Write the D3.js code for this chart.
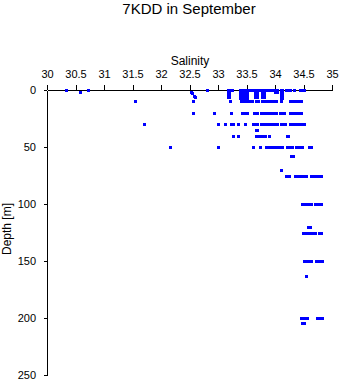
<!DOCTYPE html>
<html>
<head>
<meta charset="utf-8">
<script src="https://cdn.jsdelivr.net/npm/d3@7"></script>
<style>
  html, body { margin: 0; padding: 0; background: #fff; }
  text { font-family: "Liberation Sans", Arial, Helvetica, sans-serif; }
</style>
</head>
<body>
<svg id="chart" width="341" height="384"></svg>
<script>
const title = "7KDD in September";
const xLabel = "Salinity";
const yLabel = "Depth [m]";
const xTicks = [30, 30.5, 31, 31.5, 32, 32.5, 33, 33.5, 34, 34.5, 35];
const yTicks = [0, 50, 100, 150, 200, 250];

// observations: salinity and depth (parallel arrays)
const salinity = [
  // depth 0
  30.33, 30.72, 32.8, 33.17, 33.2, 33.25, 33.38, 33.42, 33.46, 33.5, 33.52, 33.55, 33.58, 33.62, 33.65, 33.68, 33.72, 33.75, 33.78, 33.8, 33.83, 33.86, 33.9, 33.93, 33.96, 34.0, 34.03, 34.1, 34.13, 34.2, 34.23, 34.27, 34.34, 34.44, 34.47, 34.5,
  30.58,
  // shallow columns
  32.52, 32.55, 32.58, 32.6,
  33.17, 33.17, 33.17, 33.17, 33.17, 33.17, 33.2, 33.2, 33.2, 33.2, 33.2, 33.2,
  33.38, 33.38, 33.38, 33.38, 33.38, 33.38, 33.38,
  33.42, 33.42, 33.42, 33.42, 33.42, 33.42, 33.42,
  33.46, 33.46, 33.46, 33.46, 33.46, 33.46, 33.46,
  33.5, 33.5, 33.5, 33.5, 33.5, 33.5, 33.5,
  33.65, 33.65, 33.65, 33.65, 33.65, 33.65, 33.68, 33.68, 33.68, 33.68, 33.68, 33.68,
  33.77, 33.77, 33.77, 33.77, 33.77, 33.77, 33.8, 33.8, 33.8, 33.8, 33.8, 33.8,
  34.0, 34.03, 34.0, 34.03,
  34.1, 34.1, 34.1, 34.1, 34.1, 34.1, 34.1, 34.12, 34.12, 34.12, 34.12, 34.12, 34.12, 34.12,
  // depth 10
  31.55, 32.57, 33.21, 33.4, 33.44, 33.48, 33.52, 33.56, 33.6, 33.66, 33.7, 33.78, 33.82, 33.86, 33.9, 33.94, 33.98, 34.02, 34.1, 34.26, 34.29, 34.35, 34.38, 34.42, 34.46,
  // depth 20
  32.57, 32.93, 33.23, 33.42, 33.46, 33.5, 33.64, 33.68, 33.76, 33.8, 33.84, 33.88, 33.92, 33.96, 34.0, 34.02, 34.09, 34.12, 34.16, 34.26, 34.29, 34.35, 34.38, 34.42, 34.46,
  // depth 30
  31.7, 33.0, 33.12, 33.23, 33.27, 33.35, 33.48, 33.61, 33.65, 33.69, 33.76, 33.8, 33.84, 33.88, 33.92, 33.96, 34.0, 34.04, 34.1, 34.14, 34.18, 34.26, 34.29, 34.35, 34.39, 34.43, 34.47, 34.5,
  // depth 35
  33.66, 33.68,
  // depth 40
  33.26, 33.35, 33.67, 33.7, 33.74, 33.78, 33.82, 33.89, 34.21, 34.23,
  // depth 50
  32.15, 33.0, 33.61, 33.73, 33.84, 33.88, 33.92, 33.96, 34.0, 34.04, 34.08, 34.12, 34.21, 34.25, 34.29, 34.37, 34.41, 34.45, 34.48, 34.59, 34.63,
  // depth 58
  34.28, 34.31,
  // depth 70
  34.1,
  // depth 75
  34.2, 34.25, 34.35, 34.39, 34.43, 34.47, 34.51, 34.54, 34.63, 34.67, 34.71, 34.75, 34.78, 34.81,
  // depth 100
  34.48, 34.52, 34.56, 34.6, 34.64, 34.7, 34.74, 34.78, 34.81,
  // depth 120
  34.58, 34.61,
  // depth 125
  34.49, 34.53, 34.57, 34.61, 34.64, 34.68, 34.71, 34.77, 34.81,
  // depth 150
  34.51, 34.55, 34.59, 34.63, 34.72, 34.74, 34.79, 34.83,
  // depth 163
  34.55,
  // depth 200
  34.46, 34.5, 34.54, 34.57, 34.74, 34.78, 34.82,
  // depth 204
  34.48, 34.51
];
const depth = [
  0,0,0,0,0,0,0,0,0,0,0,0,0,0,0,0,0,0,0,0,0,0,0,0,0,0,0,0,0,0,0,0,0,0,0,0,
  1.5,
  2, 3, 5, 6,
  1,2,3,4,5,6, 1,2,3,4,5,6,
  1,2,3,4,5,6,7,
  1,2,3,4,5,6,7,
  1,2,3,4,5,6,7,
  1,2,3,4,5,6,7,
  1,2,3,4,5,6, 1,2,3,4,5,6,
  1,2,3,4,5,6, 1,2,3,4,5,6,
  1,1,2,2,
  1,2,3,4,5,6,7, 1,2,3,4,5,6,7,
  10,10,10,10,10,10,10,10,10,10,10,10,10,10,10,10,10,10,10,10,10,10,10,10,10,
  20,20,20,20,20,20,20,20,20,20,20,20,20,20,20,20,20,20,20,20,20,20,20,20,20,
  30,30,30,30,30,30,30,30,30,30,30,30,30,30,30,30,30,30,30,30,30,30,30,30,30,30,30,30,
  35,35,
  40,40,40,40,40,40,40,40,40,40,
  50,50,50,50,50,50,50,50,50,50,50,50,50,50,50,50,50,50,50,50,50,
  58,58,
  70,
  75,75,75,75,75,75,75,75,75,75,75,75,75,75,
  100,100,100,100,100,100,100,100,100,
  120,120,
  125,125,125,125,125,125,125,125,125,
  150,150,150,150,150,150,150,150,
  163,
  200,200,200,200,200,200,200,
  204,204
];

const svg = d3.select("#chart");
const marginLeft = 47, marginTop = 90, plotW = 285, plotH = 285;

const x = d3.scaleLinear().domain([30, 35]).range([0, plotW]);
const y = d3.scaleLinear().domain([0, 250]).range([0, plotH]);

const g = svg.append("g").attr("transform", `translate(${marginLeft},${marginTop})`);

// axes
const xAxis = g.append("g")
  .call(d3.axisTop(x).tickValues(xTicks).tickSize(5).tickSizeOuter(0).tickFormat(d3.format("")));
const yAxis = g.append("g")
  .call(d3.axisLeft(y).tickValues(yTicks).tickSize(3).tickSizeOuter(0).tickFormat(d3.format("")));

[xAxis, yAxis].forEach(a => {
  a.selectAll("path, line").attr("stroke", "#000").attr("shape-rendering", "crispEdges");
  a.selectAll("text").attr("fill", "#000").attr("font-size", 11)
    .attr("font-family", "'Liberation Sans', Arial, sans-serif");
});
xAxis.selectAll("text").attr("dy", null).attr("y", -12);
yAxis.selectAll("text").attr("x", -11).attr("dy", "0.35em");

// points (drawn over the axes)
const pts = d3.range(Math.min(salinity.length, depth.length)).map(i => ({s: salinity[i], d: depth[i]}));
g.append("g").selectAll("rect").data(pts).join("rect")
  .attr("x", d => Math.round(x(d.s)) - 1)
  .attr("y", d => Math.round(y(d.d)) - 1)
  .attr("width", 3).attr("height", 3)
  .attr("fill", "#0000ff")
  .attr("shape-rendering", "crispEdges");

// labels
svg.append("text").attr("x", 189).attr("y", 14).attr("text-anchor", "middle")
  .attr("font-size", 15).attr("fill", "#000").text(title);
svg.append("text").attr("x", 190).attr("y", 65).attr("text-anchor", "middle")
  .attr("font-size", 12).attr("fill", "#000").text(xLabel);
svg.append("text").attr("transform", "translate(11,229) rotate(-90)").attr("text-anchor", "middle")
  .attr("font-size", 12).attr("fill", "#000").text(yLabel);
</script>
</body>
</html>
